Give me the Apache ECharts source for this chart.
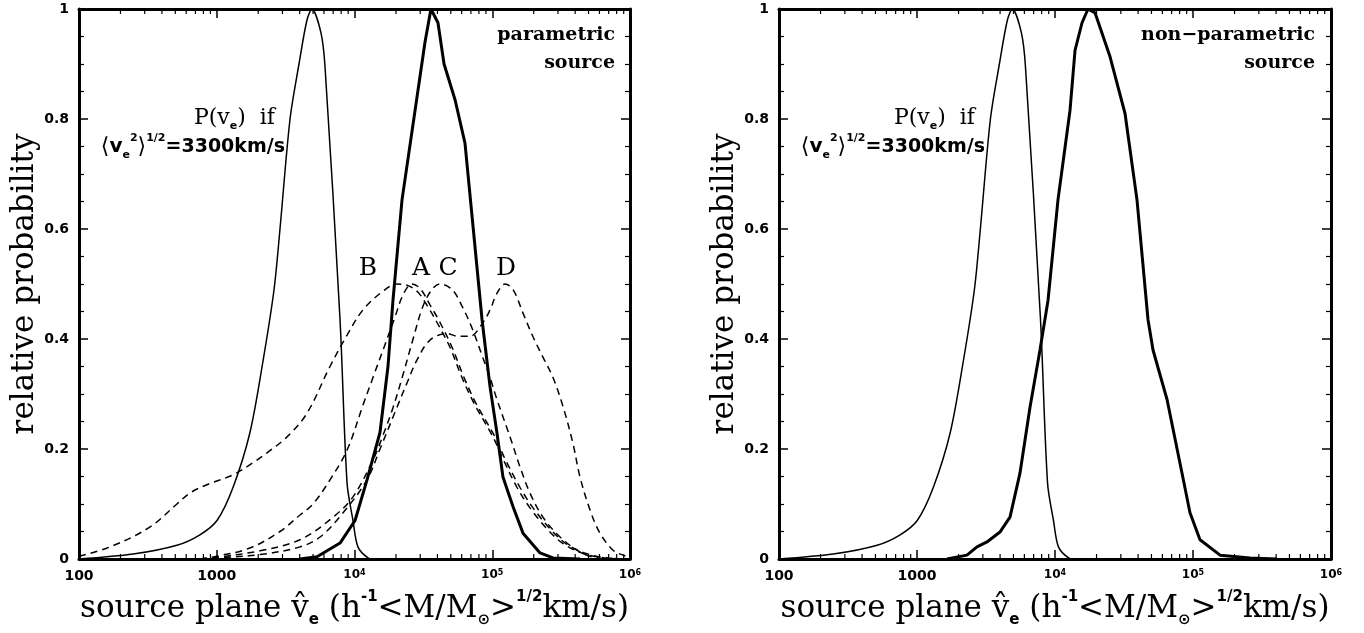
<!DOCTYPE html>
<html><head><meta charset="utf-8">
<script src="https://cdn.jsdelivr.net/npm/echarts@6/dist/echarts.min.js"></script>
<style>html,body{margin:0;padding:0;background:#fff}#c{width:1364px;height:633px}</style>
</head><body><div id="c"></div>
<script>
// ---------- data (x = source-plane velocity, y = relative probability) ----------
const xTickValues = [100, 1000, 10000, 100000, 1000000];
const xTickBase = ['100', '1000', '10', '10', '10'];
const xTickExp = ['', '', '4', '5', '6'];
const xMinorTicks = [200,300,400,500,600,700,800,900,
  2000,3000,4000,5000,6000,7000,8000,9000,
  20000,30000,40000,50000,60000,70000,80000,90000,
  200000,300000,400000,500000,600000,700000,800000,900000];
const yTickLabels = ['0', '0.2', '0.4', '0.6', '0.8', '1'];

// P(v_e) for <v_e^2>^1/2 = 3300 km/s (thin solid, both panels)
const thinV = [100, 247, 514, 755, 1004, 1312, 1742, 2167, 2606, 2878, 3404, 3954, 4519, 4909, 5715, 6109, 7852, 8831, 9750, 10590, 12530, 14000];
const thinP = [0, 0.009, 0.025, 0.044, 0.07, 0.13, 0.23, 0.36, 0.49, 0.6, 0.8, 0.9, 0.98, 1.0, 0.956, 0.895, 0.435, 0.138, 0.07, 0.022, 0.002, 0];

// parametric source (thick solid, left panel)
const paramV = [4018, 5346, 7852, 10090, 12330, 15310, 17500, 19020, 22130, 32510, 35890, 40360, 44670, 53700, 63390, 84330, 96380, 108200, 119600, 141600, 167200, 222300, 276000, 433500];
const paramP = [0, 0.004, 0.029, 0.07, 0.144, 0.23, 0.35, 0.47, 0.653, 0.94, 1.0, 0.975, 0.9, 0.835, 0.756, 0.435, 0.313, 0.229, 0.149, 0.095, 0.047, 0.011, 0.002, 0];

// non-parametric source (thick solid, right panel)
const nonParamV = [1649, 2301, 2721, 3215, 3992, 4720, 5574, 6590, 7785, 8898, 10510, 12850, 13970, 15700, 17350, 19500, 25060, 32170, 39280, 47210, 51320, 64840, 83270, 95090, 112400, 157100, 259000, 406000];
const nonParamP = [0, 0.007, 0.022, 0.031, 0.049, 0.076, 0.156, 0.276, 0.38, 0.47, 0.653, 0.816, 0.925, 0.975, 1.0, 0.993, 0.913, 0.81, 0.653, 0.435, 0.38, 0.29, 0.156, 0.084, 0.035, 0.007, 0.002, 0];

// dashed curves A, B, C, D (left panel)
const bV = [100, 168, 327, 514, 639, 849, 1312, 1834, 2317, 3236, 4519, 6637, 8831, 11530, 16110, 20360, 24450, 28910, 34200, 39720, 49320, 60260, 73790, 101200, 119600, 151400, 187900, 249500, 326600, 456000, 657700, 1000000];
const bP = [0.005, 0.022, 0.058, 0.1, 0.12, 0.135, 0.153, 0.175, 0.193, 0.222, 0.265, 0.35, 0.407, 0.453, 0.487, 0.5, 0.497, 0.485, 0.458, 0.43, 0.385, 0.33, 0.283, 0.222, 0.182, 0.13, 0.093, 0.055, 0.028, 0.01, 0.002, 0];

const aV = [755, 1004, 1742, 2878, 4018, 5000, 6637, 8831, 11530, 13620, 16110, 19680, 22490, 26120, 29920, 35320, 41780, 51050, 62370, 76210, 104700, 123800, 159200, 197700, 262600, 342800, 479800, 691800, 1000000];
const aP = [0, 0.005, 0.02, 0.05, 0.08, 0.1, 0.144, 0.198, 0.28, 0.33, 0.38, 0.44, 0.48, 0.5, 0.492, 0.462, 0.43, 0.385, 0.33, 0.283, 0.222, 0.182, 0.13, 0.093, 0.055, 0.028, 0.01, 0.002, 0];

const cV = [755, 1004, 2061, 4018, 6982, 9750, 13620, 16110, 19020, 22490, 26610, 31440, 36540, 41780, 51050, 60260, 71290, 84330, 96380, 108200, 134600, 159200, 187900, 233300, 310500, 412100, 512900, 657700];
const cP = [0, 0.003, 0.015, 0.035, 0.076, 0.113, 0.18, 0.225, 0.275, 0.335, 0.4, 0.46, 0.49, 0.5, 0.49, 0.46, 0.42, 0.37, 0.33, 0.29, 0.222, 0.167, 0.12, 0.076, 0.04, 0.016, 0.005, 0];

const dV = [755, 1004, 2061, 4018, 5623, 8260, 12330, 15310, 20360, 24050, 28440, 35320, 46990, 56380, 68870, 85700, 96380, 108200, 123800, 141600, 167200, 197700, 233300, 276000, 326600, 385500, 433500, 512900, 605300, 753400, 889200, 1000000];
const dP = [0, 0.002, 0.008, 0.022, 0.04, 0.084, 0.144, 0.2, 0.276, 0.32, 0.362, 0.398, 0.41, 0.405, 0.405, 0.43, 0.453, 0.483, 0.5, 0.49, 0.447, 0.404, 0.367, 0.33, 0.277, 0.21, 0.149, 0.089, 0.047, 0.016, 0.007, 0.003];

// ---------- chart ----------
const pairs = (xs, ys) => xs.map((x, i) => [x, ys[i]]);
const BLACK = '#000';
const serif = 'DejaVu Serif';
const sans = 'DejaVu Sans';

function xLabel(v) {
  const i = xTickValues.findIndex(t => Math.abs(Math.log10(t) - Math.log10(v)) < 1e-6);
  if (i < 0) return '';
  return xTickExp[i] ? '{n|' + xTickBase[i] + '}{s|' + xTickExp[i] + '}' : '{b|' + xTickBase[i] + '}';
}
function yLabel(v) {
  const i = Math.round(v / 0.2);
  return Math.abs(v - i * 0.2) < 1e-6 ? yTickLabels[i] : '';
}

const xTitle = 'source plane v\u0302{sub|e} (h{sup|-1}<M/M{sub|\u2299}>{sup|1/2}km/s)';
const titleStyle = {
  fontFamily: serif, fontSize: 31, color: BLACK, lineHeight: 38,
  rich: {
    sub: {fontFamily: sans, fontWeight: 'bold', fontSize: 15, lineHeight: 14, verticalAlign: 'bottom', color: BLACK},
    sup: {fontFamily: sans, fontWeight: 'bold', fontSize: 15, lineHeight: 14, verticalAlign: 'top', color: BLACK}
  }
};

function xAxes(gi) {
  const common = {
    type: 'log', logBase: 10, min: 100, max: 1000000, gridIndex: gi,
    axisLine: {show: true, onZero: false, lineStyle: {color: BLACK, width: 3}},
    axisTick: {show: true, inside: true, length: 9, lineStyle: {color: BLACK, width: 1.5}},
    minorTick: {show: false}, splitLine: {show: false}
  };
  return [
    Object.assign({}, common, {
      position: 'bottom', name: xTitle, nameLocation: 'middle', nameGap: 31, nameTextStyle: titleStyle,
      axisLabel: {
        show: true, margin: 10, formatter: xLabel, color: BLACK, showMinLabel: true, showMaxLabel: true, hideOverlap: false,
        rich: {
          b: {fontFamily: sans, fontWeight: 'bold', fontSize: 14, color: BLACK},
          n: {fontFamily: sans, fontWeight: 'bold', fontSize: 12, color: BLACK},
          s: {fontFamily: sans, fontWeight: 'bold', fontSize: 8, verticalAlign: 'top', lineHeight: 9, color: BLACK}
        }
      }
    }),
    Object.assign({}, common, {position: 'top', axisLabel: {show: false}})
  ];
}
function yAxes(gi) {
  const common = {
    type: 'value', min: 0, max: 1, interval: 0.2, gridIndex: gi,
    axisLine: {show: true, onZero: false, lineStyle: {color: BLACK, width: 3}},
    axisTick: {show: true, inside: true, length: 9, lineStyle: {color: BLACK, width: 1.5}},
    minorTick: {show: true, splitNumber: 4, length: 5, lineStyle: {color: BLACK, width: 1.2}},
    splitLine: {show: false}, minorSplitLine: {show: false}
  };
  return [
    Object.assign({}, common, {
      position: 'left', name: 'relative probability', nameLocation: 'middle', nameGap: 36,
      nameTextStyle: {fontFamily: serif, fontSize: 31, color: BLACK},
      axisLabel: {show: true, margin: 10, formatter: yLabel, fontFamily: sans, fontWeight: 'bold', fontSize: 14, color: BLACK, showMinLabel: true, showMaxLabel: true}
    }),
    Object.assign({}, common, {position: 'right', axisLabel: {show: false}})
  ];
}

function minorTickSeries(gi) {
  return {
    type: 'custom', xAxisIndex: gi * 2, yAxisIndex: gi * 2, silent: true, z: 5, clip: false,
    data: xMinorTicks.map(v => [v, 0]),
    encode: {x: 0, y: 1},
    renderItem: (params, api) => {
      const x = api.coord([api.value(0), 0])[0];
      const cs = params.coordSys;
      const yb = cs.y + cs.height, yt = cs.y;
      return {type: 'group', children: [
        {type: 'line', shape: {x1: x, y1: yb, x2: x, y2: yb - 5}, style: {stroke: BLACK, lineWidth: 1.2}},
        {type: 'line', shape: {x1: x, y1: yt, x2: x, y2: yt + 5}, style: {stroke: BLACK, lineWidth: 1.2}}
      ]};
    }
  };
}
function line(name, xs, ys, gi, width, dashed, smooth) {
  return {
    type: 'line', name: name, xAxisIndex: gi * 2, yAxisIndex: gi * 2,
    data: pairs(xs, ys), showSymbol: false, symbol: 'none',
    smooth: smooth,
    lineStyle: {color: BLACK, width: width, type: dashed ? [7, 5] : 'solid'}, z: 3
  };
}

const annoRich = {
  sub: {fontFamily: sans, fontWeight: 'bold', fontSize: 11, lineHeight: 10, verticalAlign: 'bottom'},
  sup: {fontFamily: sans, fontWeight: 'bold', fontSize: 11, lineHeight: 10, verticalAlign: 'top'},
  bv: {fontFamily: sans, fontWeight: 'bold', fontSize: 20},
  num: {fontFamily: sans, fontWeight: 'bold', fontSize: 19}
};
function annotations(dx) {
  return [
    {type: 'text', x: 275 + dx, y: 118, style: {text: 'P(v{sub|e})  if', fontFamily: serif, fontSize: 22, fill: BLACK, align: 'right', verticalAlign: 'middle', lineHeight: 28, rich: annoRich}},
    {type: 'text', x: 285 + dx, y: 147, style: {text: '\u27E8{bv|v}{sub|e}{sup|2}\u27E9{sup|1/2}{num|=3300km/s}', fontFamily: serif, fontSize: 22, fill: BLACK, align: 'right', verticalAlign: 'middle', lineHeight: 28, rich: annoRich}}
  ];
}
const corner = {fontFamily: serif, fontWeight: 'bold', fontSize: 19, fill: BLACK, align: 'right', verticalAlign: 'middle'};
const letter = {fontFamily: serif, fontSize: 25, fill: BLACK, align: 'center', verticalAlign: 'middle'};

const chart = echarts.init(document.getElementById('c'), null, {renderer: 'canvas'});
chart.setOption({
  animation: false,
  backgroundColor: '#fff',
  grid: [
    {left: 79, top: 9, width: 551, height: 550, outerBoundsMode: 'none', containLabel: false},
    {left: 779, top: 9, width: 552, height: 550, outerBoundsMode: 'none', containLabel: false}
  ],
  xAxis: [...xAxes(0), ...xAxes(1)],
  yAxis: [...yAxes(0), ...yAxes(1)],
  series: [
    minorTickSeries(0), minorTickSeries(1),
    line('P(v_e)', thinV, thinP, 0, 1.5, false, 0.3),
    line('parametric source', paramV, paramP, 0, 3, false, false),
    line('B', bV, bP, 0, 1.5, true, 0.35),
    line('A', aV, aP, 0, 1.5, true, 0.35),
    line('C', cV, cP, 0, 1.5, true, 0.35),
    line('D', dV, dP, 0, 1.5, true, 0.35),
    line('P(v_e) ', thinV, thinP, 1, 1.5, false, 0.3),
    line('non-parametric source', nonParamV, nonParamP, 1, 3, false, false)
  ],
  graphic: [
    ...annotations(0), ...annotations(700),
    {type: 'text', x: 615, y: 35, style: Object.assign({text: 'parametric'}, corner)},
    {type: 'text', x: 615, y: 63, style: Object.assign({text: 'source'}, corner)},
    {type: 'text', x: 1315, y: 35, style: Object.assign({text: 'non\u2212parametric'}, corner)},
    {type: 'text', x: 1315, y: 63, style: Object.assign({text: 'source'}, corner)},
    {type: 'text', x: 368, y: 268, style: Object.assign({text: 'B'}, letter)},
    {type: 'text', x: 421, y: 268, style: Object.assign({text: 'A'}, letter)},
    {type: 'text', x: 448, y: 268, style: Object.assign({text: 'C'}, letter)},
    {type: 'text', x: 506, y: 268, style: Object.assign({text: 'D'}, letter)}
  ]
});
</script></body></html>
